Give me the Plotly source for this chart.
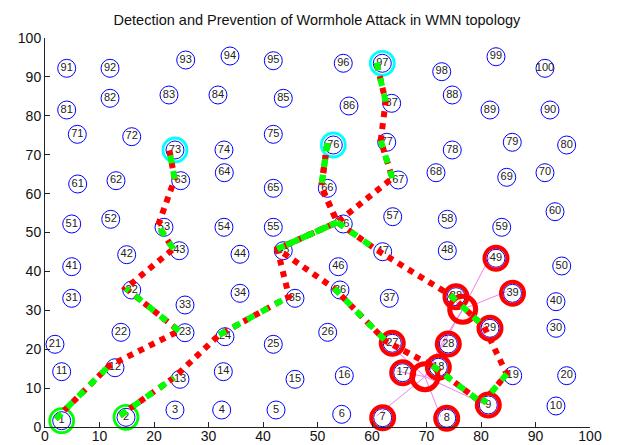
import plotly.graph_objects as go

# ---------------- data ----------------
node_ids = list(range(1, 101))
node_x = [3.06, 14.86, 23.85, 32.42, 42.39, 54.44, 61.96, 73.71, 81.34, 93.76,
          3.06, 12.84, 24.77, 32.72, 45.87, 54.92, 65.63, 72.17, 85.82, 95.72,
          1.83, 13.94, 25.69, 33.03, 41.89, 51.87, 63.72, 74.00, 81.65, 93.76,
          4.90, 15.91, 25.69, 35.78, 45.87, 54.13, 63.17, 75.41, 85.78, 93.76,
          4.90, 14.99, 24.64, 35.78, 43.72, 53.82, 61.96, 73.82, 82.75, 94.81,
          4.90, 12.06, 21.83, 32.84, 41.89, 54.73, 63.80, 73.82, 83.80, 93.58,
          6.00, 13.03, 24.90, 32.90, 41.89, 51.80, 64.83, 71.74, 84.72, 91.74,
          5.93, 15.91, 23.85, 32.84, 41.89, 52.90, 62.70, 74.73, 85.74, 95.72,
          3.98, 11.93, 22.75, 31.74, 43.72, 55.78, 63.61, 74.73, 81.65, 92.66,
          3.98, 11.93, 25.82, 33.94, 41.89, 54.73, 61.89, 72.79, 82.75, 91.74]
node_y = [1.62, 2.49, 4.37, 4.37, 4.37, 3.26, 2.39, 2.24, 5.66, 5.40,
          14.22, 15.24, 12.26, 14.22, 12.26, 13.19, 13.96, 15.35, 13.19, 13.19,
          21.26, 24.34, 24.24, 23.21, 21.26, 24.34, 21.52, 21.34, 25.37, 25.37,
          33.08, 35.22, 31.36, 34.37, 33.08, 35.22, 33.08, 33.50, 34.37, 32.21,
          41.21, 44.29, 45.32, 44.40, 45.32, 41.21, 45.06, 45.32, 43.37, 41.39,
          52.19, 53.39, 51.34, 51.34, 51.34, 52.19, 54.06, 53.39, 51.34, 55.35,
          62.47, 63.32, 63.32, 65.37, 61.36, 61.36, 63.50, 65.37, 64.19, 65.37,
          75.24, 74.63, 71.21, 71.21, 75.24, 72.49, 73.19, 71.21, 73.19, 72.49,
          81.49, 84.50, 85.35, 85.35, 84.50, 82.52, 83.21, 85.35, 81.49, 81.49,
          92.21, 92.21, 94.34, 95.37, 94.16, 93.50, 93.50, 91.34, 95.19, 92.21]

wormhole_x = [69.72, 76.64]
wormhole_y = [12.93, 30.26]

route_1 = [1, 12, 23, 32, 43, 53, 63, 73]
route_2 = [2, 13, 24, 35, 45, 56, 67, 77, 87, 97]
route_3 = [76, 66, 56, 47, 38, 29, 19, 9]
route_4 = [76, 66, 56, 45, 36, 27, 18, 9]
routes = [route_1, route_2, route_3, route_4]

source_nodes = [1, 2]
destination_nodes = [73, 76, 97]
affected_nodes = [7, 8, 9, 17, 18, 27, 28, 29, 38, 39, 49]
w1_links = [7, 8, 9, 17, 18, 27, 28]
w2_links = [28, 29, 38, 39, 49]

tick_vals = [0, 10, 20, 30, 40, 50, 60, 70, 80, 90, 100]
title_text = "Detection and Prevention of Wormhole Attack in WMN topology"

# ---------------- style constants ----------------
VX, VY = -1.1, 0.45   # node anchor relative to the label-box centre
FONT = "Liberation Sans, Arial, Helvetica, sans-serif"


def vx(n):
    return node_x[n - 1] + VX


def vy(n):
    return node_y[n - 1] + VY


fig = go.Figure()

# wormhole links (magenta)
lx, ly = [], []
for w, links in ((0, w1_links), (1, w2_links)):
    for n in links:
        lx += [wormhole_x[w], vx(n), None]
        ly += [wormhole_y[w], vy(n), None]
lx += [wormhole_x[0], wormhole_x[1], None]
ly += [wormhole_y[0], wormhole_y[1], None]
fig.add_trace(go.Scatter(x=lx, y=ly, mode="lines",
                         line=dict(color="rgb(238,130,238)", width=1),
                         hoverinfo="skip"))

# blue node circles with labels
fig.add_trace(go.Scatter(
    x=node_x, y=node_y, mode="markers+text",
    text=[str(i) for i in node_ids], textposition="middle center",
    textfont=dict(family=FONT, size=11, color="#222222"),
    marker=dict(symbol="circle-open", size=18, color="rgb(0,0,255)",
                line=dict(width=1, color="rgb(0,0,255)")),
    cliponaxis=False, hoverinfo="skip"))

# affected nodes (red)
fig.add_trace(go.Scatter(
    x=[node_x[n - 1] for n in affected_nodes],
    y=[node_y[n - 1] for n in affected_nodes], mode="markers",
    marker=dict(symbol="circle-open", size=23, color="rgb(255,0,0)",
                line=dict(width=4, color="rgb(255,0,0)")),
    cliponaxis=False, hoverinfo="skip"))

# wormhole nodes (big red)
fig.add_trace(go.Scatter(
    x=wormhole_x, y=wormhole_y, mode="markers",
    marker=dict(symbol="circle-open", size=26, color="rgb(255,0,0)",
                line=dict(width=5, color="rgb(255,0,0)")),
    cliponaxis=False, hoverinfo="skip"))

# destinations (cyan)
fig.add_trace(go.Scatter(
    x=[node_x[n - 1] for n in destination_nodes],
    y=[node_y[n - 1] for n in destination_nodes], mode="markers",
    marker=dict(symbol="circle-open", size=24, color="rgb(0,255,255)",
                line=dict(width=2.8, color="rgb(0,255,255)")),
    cliponaxis=False, hoverinfo="skip"))

# sources (green)
fig.add_trace(go.Scatter(
    x=[node_x[n - 1] for n in source_nodes],
    y=[node_y[n - 1] for n in source_nodes], mode="markers",
    marker=dict(symbol="circle-open", size=24, color="rgb(0,255,0)",
                line=dict(width=2.8, color="rgb(0,255,0)")),
    cliponaxis=False, hoverinfo="skip"))

# routes: red dotted along whole route, green dashed on alternate hops
for r in routes:
    fig.add_trace(go.Scatter(
        x=[vx(n) for n in r], y=[vy(n) for n in r], mode="lines",
        line=dict(color="rgb(255,0,0)", width=6, dash="6px,6px"),
        hoverinfo="skip"))
for r in routes:
    for i in range(0, len(r) - 1, 2):
        a, b = r[i], r[i + 1]
        fig.add_trace(go.Scatter(
            x=[vx(a), vx(b)], y=[vy(a), vy(b)], mode="lines",
            line=dict(color="rgb(0,255,0)", width=6, dash="8px,8px"),
            hoverinfo="skip"))

axis_common = dict(range=[0, 100], tickvals=tick_vals,
                   ticktext=[str(t) for t in tick_vals],
                   showgrid=False, zeroline=False, showline=True,
                   linecolor="#222222", linewidth=1,
                   ticks="inside", ticklen=5, tickcolor="#222222",
                   tickfont=dict(family=FONT, size=14, color="#111111"),
                   automargin=False, fixedrange=True)

fig.update_layout(
    width=619, height=445,
    margin=dict(l=45, r=29, t=38, b=18),
    paper_bgcolor="white", plot_bgcolor="white",
    showlegend=False,
    title=dict(text=title_text, x=0.512, xanchor="center", y=0.955,
               yanchor="middle",
               font=dict(family=FONT, size=14.5, color="#111111")),
    xaxis=dict(axis_common, ticklabelstandoff=-4),
    yaxis=axis_common,
)

fig.write_html("out.html", config={"displayModeBar": False},
               post_script="document.body.style.margin='0px';"
                           "document.body.style.overflow='hidden';")
